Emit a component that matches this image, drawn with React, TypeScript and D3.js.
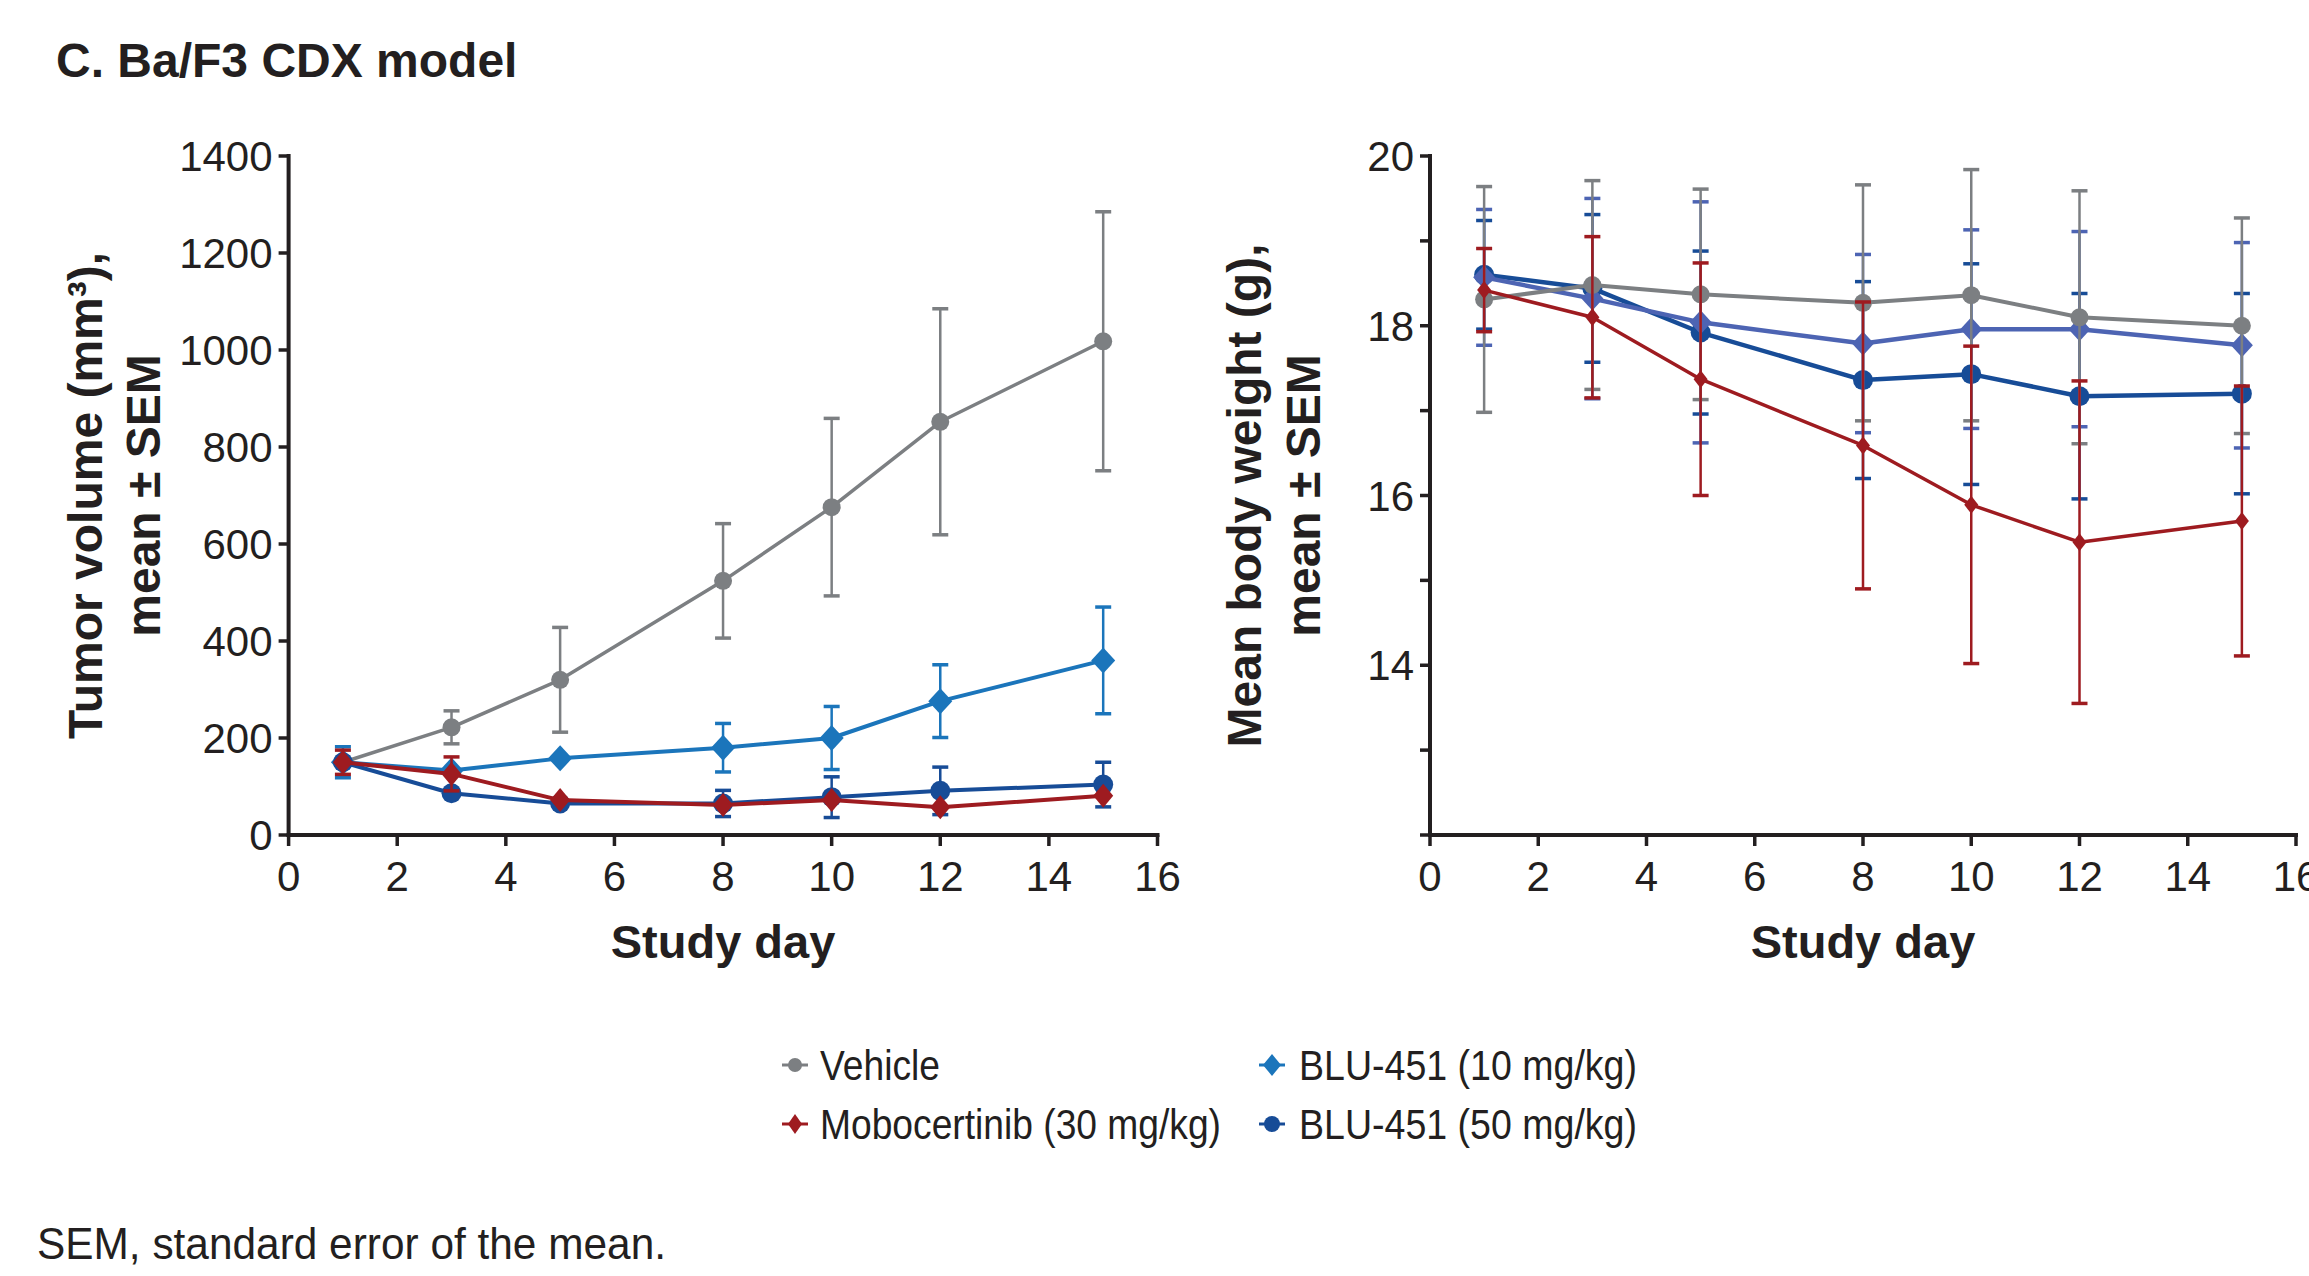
import React from "react";
import * as d3 from "d3";

const days = [1, 3, 5, 8, 10, 12, 15];
const seriesNames = ["Vehicle", "Mobocertinib (30 mg/kg)", "BLU-451 (10 mg/kg)", "BLU-451 (50 mg/kg)"];

// Tumor volume (mm3), mean and SEM
const tvVehicle = [150, 222, 320, 524, 676, 852, 1018];
const tvVehicleSem = [0, 34, 108, 118, 183, 233, 267];
const tvMobo = [150, 126, 72, 62, 72, 57, 81];
const tvMoboSem = [25, 35, 0, 0, 0, 0, 0];
const tvBlu10 = [150, 133, 158, 180, 200, 276, 360];
const tvBlu10Sem = [32, 0, 0, 50, 65, 75, 110];
const tvBlu50 = [150, 86, 65, 65, 78, 91, 104];
const tvBlu50Sem = [0, 0, 0, 27, 42, 49, 46];

// Mean body weight (g), mean and SEM
const bwVehicle = [18.31, 18.48, 18.37, 18.27, 18.36, 18.1, 18.0];
const bwVehicleSem = [1.33, 1.23, 1.24, 1.39, 1.48, 1.49, 1.27];
const bwMobo = [18.42, 18.1, 17.37, 16.59, 15.89, 15.45, 15.7];
const bwMoboSem = [0.49, 0.95, 1.37, 1.69, 1.87, 1.9, 1.59];
const bwBlu10 = [18.57, 18.32, 18.04, 17.79, 17.96, 17.96, 17.77];
const bwBlu10Sem = [0.8, 1.18, 1.42, 1.05, 1.17, 1.15, 1.21];
const bwBlu50 = [18.6, 18.44, 17.92, 17.36, 17.43, 17.17, 17.2];
const bwBlu50Sem = [0.64, 0.87, 0.96, 1.16, 1.3, 1.21, 1.18];

const xTicks = [0, 2, 4, 6, 8, 10, 12, 14, 16];
const tvTicks = [0, 200, 400, 600, 800, 1000, 1200, 1400];
const bwTicks = [12, 13, 14, 15, 16, 17, 18, 19, 20];
const bwLabelTicks = [14, 16, 18, 20];

const GRAY = "#7c7f82";
const RED = "#9e1b20";
const BLUE10 = "#1b75bb";
const BLUE10B = "#4d64b3";
const BLUE50 = "#174c97";
const AXIS = "#231f20";
const FONT = "'Liberation Sans', Arial, Helvetica, sans-serif";

type Marker = { kind: "circle" | "diamond"; a: number; b: number };

function markerPath(m: Marker) {
  if (m.kind === "circle") {
    const r = m.a;
    return `M${-r},0A${r},${r} 0 1,0 ${r},0A${r},${r} 0 1,0 ${-r},0Z`;
  }
  return `M0,${-m.b}L${m.a},0L0,${m.b}L${-m.a},0Z`;
}

type Series = {
  values: number[];
  sem: number[];
  color: string;
  marker: Marker;
  lw: number;
};

function Panel(props: {
  x0: number; x1: number; yTop: number; yBot: number;
  yDomain: [number, number]; yTicks: number[]; yLabels: number[];
  series: Series[]; title1: string; title2: string; t1x: number; t2x: number;
}) {
  const { x0, x1, yTop, yBot, yDomain, yTicks, yLabels, series } = props;
  const x = d3.scaleLinear().domain([0, 16]).range([x0, x1]);
  const y = d3.scaleLinear().domain(yDomain).range([yBot, yTop]);
  const line = d3.line<number>().x((_, i) => x(days[i])).y((v) => y(v));
  const yMid = (yTop + yBot) / 2;
  return (
    <g>
      {series.map((s, si) => (
        <g key={si}>
          {s.values.map((v, i) =>
            s.sem[i] > 0 ? (
              <g key={i} stroke={s.color} strokeWidth={2.5} fill="none">
                <line x1={x(days[i])} x2={x(days[i])} y1={y(v + s.sem[i])} y2={y(v - s.sem[i])} />
                <line x1={x(days[i]) - 8} x2={x(days[i]) + 8} y1={y(v + s.sem[i])} y2={y(v + s.sem[i])} strokeWidth={3.5} />
                <line x1={x(days[i]) - 8} x2={x(days[i]) + 8} y1={y(v - s.sem[i])} y2={y(v - s.sem[i])} strokeWidth={3.5} />
              </g>
            ) : null
          )}
          <path d={line(s.values) || ""} fill="none" stroke={s.color} strokeWidth={s.lw} strokeLinejoin="round" />
          {s.values.map((v, i) => (
            <path key={i} d={markerPath(s.marker)} transform={`translate(${x(days[i])},${y(v)})`} fill={s.color} />
          ))}
        </g>
      ))}
      {/* axes */}
      <line x1={x0} x2={x0} y1={yTop - 2} y2={yBot + 2} stroke={AXIS} strokeWidth={4} />
      <line x1={x0 - 2} x2={x1 + 2} y1={yBot} y2={yBot} stroke={AXIS} strokeWidth={4} />
      {yTicks.map((t) => (
        <line key={t} x1={x0 - 10} x2={x0} y1={y(t)} y2={y(t)} stroke={AXIS} strokeWidth={3.5} />
      ))}
      {yLabels.map((t) => (
        <text key={t} x={x0 - 16} y={y(t) + 15} textAnchor="end" fontSize={42} fontFamily={FONT} fill={AXIS}>
          {t}
        </text>
      ))}
      {xTicks.map((t) => (
        <g key={t}>
          <line x1={x(t)} x2={x(t)} y1={yBot} y2={yBot + 11} stroke={AXIS} strokeWidth={3.5} />
          <text x={x(t)} y={yBot + 56} textAnchor="middle" fontSize={42} fontFamily={FONT} fill={AXIS}>
            {t}
          </text>
        </g>
      ))}
      <text x={(x0 + x1) / 2} y={958} textAnchor="middle" fontSize={47} fontWeight="bold" fontFamily={FONT} fill={AXIS}>
        Study day
      </text>
      <text transform={`translate(${props.t1x},${yMid}) rotate(-90)`} textAnchor="middle" fontSize={48} fontWeight="bold" fontFamily={FONT} fill={AXIS}>
        {props.title1}
      </text>
      <text transform={`translate(${props.t2x},${yMid}) rotate(-90)`} textAnchor="middle" fontSize={48} fontWeight="bold" fontFamily={FONT} fill={AXIS}>
        {props.title2}
      </text>
    </g>
  );
}

const legendMarkers: Marker[] = [
  { kind: "circle", a: 7, b: 7 },
  { kind: "diamond", a: 7, b: 10 },
  { kind: "diamond", a: 9, b: 11 },
  { kind: "circle", a: 8, b: 8 },
];
const legendColors = [GRAY, RED, BLUE10, BLUE50];
const legendWidths = [120, 401, 338, 338];

export default function App() {
  const tvSeries: Series[] = [
    { values: tvVehicle, sem: tvVehicleSem, color: GRAY, marker: { kind: "circle", a: 9, b: 9 }, lw: 3.5 },
    { values: tvBlu10, sem: tvBlu10Sem, color: BLUE10, marker: { kind: "diamond", a: 12, b: 13 }, lw: 4 },
    { values: tvBlu50, sem: tvBlu50Sem, color: BLUE50, marker: { kind: "circle", a: 10, b: 10 }, lw: 4 },
    { values: tvMobo, sem: tvMoboSem, color: RED, marker: { kind: "diamond", a: 10, b: 12 }, lw: 4 },
  ];
  const bwSeries: Series[] = [
    { values: bwBlu50, sem: bwBlu50Sem, color: BLUE50, marker: { kind: "circle", a: 10, b: 10 }, lw: 4.5 },
    { values: bwBlu10, sem: bwBlu10Sem, color: BLUE10B, marker: { kind: "diamond", a: 11, b: 12 }, lw: 4.5 },
    { values: bwVehicle, sem: bwVehicleSem, color: GRAY, marker: { kind: "circle", a: 9, b: 9 }, lw: 4 },
    { values: bwMobo, sem: bwMoboSem, color: RED, marker: { kind: "diamond", a: 7, b: 9 }, lw: 3.5 },
  ];
  const legendPos = [
    { mx: 795, tx: 820, y: 1065 },
    { mx: 795, tx: 820, y: 1124 },
    { mx: 1272, tx: 1299, y: 1065 },
    { mx: 1272, tx: 1299, y: 1124 },
  ];
  return (
    <svg width={2309} height={1276} style={{ position: "absolute", left: 0, top: 0, background: "#fff" }}>
      <rect x={0} y={0} width={2309} height={1276} fill="#fff" />
      <text x={56} y={77} fontSize={48} fontWeight="bold" fontFamily={FONT} fill={AXIS}>
        C. Ba/F3 CDX model
      </text>
      <Panel
        x0={288.6} x1={1157.5} yTop={156} yBot={835}
        yDomain={[0, 1400]} yTicks={tvTicks} yLabels={tvTicks}
        series={tvSeries} title1="Tumor volume (mm³)," title2="mean ± SEM" t1x={102} t2x={160}
      />
      <Panel
        x0={1430} x1={2296} yTop={156} yBot={835}
        yDomain={[12, 20]} yTicks={bwTicks} yLabels={bwLabelTicks}
        series={bwSeries} title1="Mean body weight (g)," title2="mean ± SEM" t1x={1261} t2x={1320}
      />
      {seriesNames.map((name, i) => (
        <g key={name}>
          <line x1={legendPos[i].mx - 13} x2={legendPos[i].mx + 13} y1={legendPos[i].y} y2={legendPos[i].y} stroke={legendColors[i]} strokeWidth={3} />
          <path d={markerPath(legendMarkers[i])} transform={`translate(${legendPos[i].mx},${legendPos[i].y})`} fill={legendColors[i]} />
          <text x={legendPos[i].tx} y={legendPos[i].y + 15} fontSize={42} fontFamily={FONT} fill={AXIS} textLength={legendWidths[i]} lengthAdjust="spacingAndGlyphs">
            {name}
          </text>
        </g>
      ))}
      <text x={37} y={1259} fontSize={44} fontFamily={FONT} fill={AXIS} textLength={629} lengthAdjust="spacingAndGlyphs">
        SEM, standard error of the mean.
      </text>
    </svg>
  );
}
